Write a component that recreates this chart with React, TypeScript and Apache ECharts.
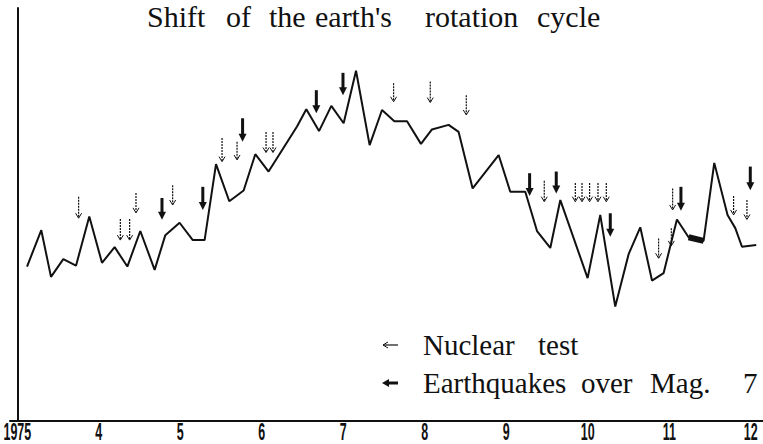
import React, { useEffect, useRef } from "react";
import * as echarts from "echarts";

// Year tick labels (positions 0..9 on the x axis)
const yearLabels = ["1975", "4", "5", "6", "7", "8", "9", "10", "11", "12"];

// Title and legend words (the printed type is widely spaced)
const titleWords = ["Shift", "of", "the", "earth's", "rotation", "cycle"];
const legendWords1 = ["Nuclear", "test"];
const legendWords2 = ["Earthquakes", "over", "Mag.", "7"];

// Rotation-cycle shift curve: x = years from first tick, y = relative shift (arbitrary units)
const curveX = [
  0.119, 0.294, 0.413, 0.564, 0.72, 0.883, 1.039, 1.194, 1.35, 1.509, 1.685, 1.816, 1.991, 2.153,
  2.298, 2.438, 2.601, 2.777, 2.92, 3.083, 3.432, 3.546, 3.702, 3.853, 4.004, 4.156, 4.323, 4.475,
  4.626, 4.782, 4.953, 5.088, 5.292, 5.415, 5.587, 5.906, 6.049, 6.233, 6.377, 6.54, 6.663, 6.998,
  7.153, 7.337, 7.501, 7.644, 7.788, 7.93, 8.094, 8.237, 8.421, 8.552, 8.715, 8.81, 8.892, 9.067,
];
const curveY = [
  37.4, 46.2, 34.9, 39.2, 37.6, 49.5, 38.3, 42.1, 37.4, 46.0, 36.6, 45.0, 48.0, 43.8,
  43.8, 62.2, 53.2, 55.8, 64.6, 60.4, 71.3, 75.5, 70.2, 76.3, 72.1, 84.8, 66.8, 75.3,
  72.6, 72.6, 67.1, 70.6, 71.7, 70.0, 56.3, 64.4, 55.5, 55.5, 46.0, 41.9, 53.5, 34.6,
  49.9, 27.7, 40.4, 46.9, 34.0, 35.8, 48.8, 44.5, 43.6, 62.5, 49.9, 46.7, 42.2, 42.6,
];
// smudged (thick) stretch of the curve, indices into the curve
const smudgeIdx = [49, 50];

// Nuclear tests: x, arrow top, arrow tip
const nuclearX = [0.752, 1.264, 1.378, 1.456, 1.906, 2.512, 2.696, 3.052, 3.137, 4.617, 5.067, 5.509, 6.466, 6.847, 6.929, 7.022, 7.125, 7.227, 7.869, 8.025, 8.041, 8.789, 8.953];
const nuclearTop = [54.3, 48.9, 48.9, 55.2, 57.1, 68.5, 67.6, 70.0, 70.0, 81.8, 82.2, 78.9, 58.2, 57.6, 57.6, 57.6, 57.6, 57.6, 44.2, 46.7, 56.3, 54.5, 53.5];
const nuclearTip = [49.1, 43.8, 43.8, 50.4, 52.3, 62.8, 63.2, 65.0, 65.0, 77.3, 77.1, 74.1, 53.1, 53.1, 53.1, 53.1, 53.1, 53.1, 39.4, 42.4, 51.1, 49.9, 48.8];

// Earthquakes over magnitude 7: x, arrow top, arrow tip
const quakeX = [1.775, 2.276, 2.764, 3.669, 3.996, 6.286, 6.613, 7.276, 8.143, 8.994];
const quakeTop = [54.0, 56.7, 73.3, 80.1, 84.3, 60.0, 60.4, 50.3, 56.7, 61.6];
const quakeTip = [48.7, 51.1, 67.6, 74.5, 78.9, 54.5, 55.1, 44.6, 50.9, 55.9];

const INK = "#111";
const SERIF = "'Liberation Serif', 'DejaVu Serif', serif";

function arrowRenderer(thick: boolean) {
  return (_params: any, api: any) => {
    const top = api.coord([api.value(0), api.value(1)]);
    const tip = api.coord([api.value(0), api.value(2)]);
    const hw = thick ? 4 : 3;
    const hh = thick ? 8 : 5;
    const children: any[] = [
      {
        type: "line",
        shape: { x1: top[0], y1: top[1], x2: tip[0], y2: tip[1] - (thick ? hh - 1 : 0.5) },
        style: { stroke: INK, lineWidth: thick ? 3 : 1.2, lineDash: thick ? null : [2, 1] },
      },
    ];
    if (thick) {
      children.push({
        type: "polygon",
        shape: { points: [[tip[0] - hw, tip[1] - hh], [tip[0] + hw, tip[1] - hh], [tip[0], tip[1]]] },
        style: { fill: INK },
      });
    } else {
      children.push({
        type: "polyline",
        shape: { points: [[tip[0] - hw, tip[1] - hh], [tip[0], tip[1]], [tip[0] + hw, tip[1] - hh]] },
        style: { stroke: INK, fill: null, lineWidth: 1 },
      });
    }
    return { type: "group", children };
  };
}

// condensed year labels, placed through the x scale
function yearLabelRenderer(_params: any, api: any) {
  const p = api.coord([api.value(0), 0]);
  return {
    type: "text",
    x: p[0],
    y: p[1] + 11,
    scaleX: 0.52,
    style: {
      text: yearLabels[api.value(0)],
      font: "bold 24px 'Liberation Sans', Arial, sans-serif",
      fill: INK,
      align: "center",
      verticalAlign: "middle",
    },
  };
}

function wordTexts(words: string[], xs: number[], y: number, size: number) {
  return words.map((w, i) => ({
    type: "text",
    x: xs[i],
    y,
    style: { text: w, font: `${size}px ${SERIF}`, fill: INK, verticalAlign: "middle" },
  }));
}

export default function App() {
  const ref = useRef<HTMLDivElement>(null);
  useEffect(() => {
    if (!ref.current) return;
    const chart = echarts.init(ref.current, null, { renderer: "svg" });
    const curve = curveX.map((x, i) => [x, curveY[i]]);
    const smudge = smudgeIdx.map((i) => [curveX[i], curveY[i]]);
    const nuclear = nuclearX.map((x, i) => [x, nuclearTop[i], nuclearTip[i]]);
    const quakes = quakeX.map((x, i) => [x, quakeTop[i], quakeTip[i]]);
    const labels = yearLabels.map((_, i) => [i]);

    chart.setOption({
      animation: false,
      backgroundColor: "#fff",
      grid: { left: 10, right: 0, top: 8, bottom: 23, outerBoundsMode: "none", containLabel: false },
      xAxis: {
        type: "value",
        min: -0.09,
        max: 9.15,
        splitLine: { show: false },
        axisLine: { show: true, lineStyle: { color: INK, width: 2 } },
        axisTick: { show: false },
        axisLabel: { show: false },
      },
      yAxis: {
        type: "value",
        min: 0,
        max: 100,
        splitLine: { show: false },
        axisLine: { show: true, lineStyle: { color: INK, width: 2 } },
        axisTick: { show: false },
        axisLabel: { show: false },
      },
      series: [
        {
          type: "line",
          data: curve,
          symbol: "none",
          lineStyle: { color: INK, width: 2 },
        },
        {
          type: "line",
          data: smudge,
          symbol: "none",
          lineStyle: { color: INK, width: 6 },
        },
        {
          type: "custom",
          data: nuclear,
          renderItem: arrowRenderer(false),
        },
        {
          type: "custom",
          data: quakes,
          renderItem: arrowRenderer(true),
        },
        {
          type: "custom",
          data: labels,
          clip: false,
          renderItem: yearLabelRenderer,
        },
      ],
      graphic: [
        ...wordTexts(titleWords, [147, 226, 269, 315, 425, 537], 16, 30),
        {
          type: "line",
          shape: { x1: 383, y1: 345, x2: 398, y2: 345 },
          style: { stroke: INK, lineWidth: 1.2 },
        },
        {
          type: "polyline",
          shape: { points: [[388, 342], [383, 345], [388, 348]] },
          style: { stroke: INK, fill: null, lineWidth: 1 },
        },
        {
          type: "line",
          shape: { x1: 388, y1: 383, x2: 398, y2: 383 },
          style: { stroke: INK, lineWidth: 3 },
        },
        {
          type: "polygon",
          shape: { points: [[382, 383], [389, 379], [389, 387]] },
          style: { fill: INK },
        },
        ...wordTexts(legendWords1, [423, 538], 345, 29),
        ...wordTexts(legendWords2, [423, 581, 650, 743], 383, 29),
      ],
    });
    return () => chart.dispose();
  }, []);
  return (
    <div
      ref={ref}
      style={{ position: "fixed", left: 0, top: 0, width: 763, height: 444, background: "#fff" }}
    />
  );
}
